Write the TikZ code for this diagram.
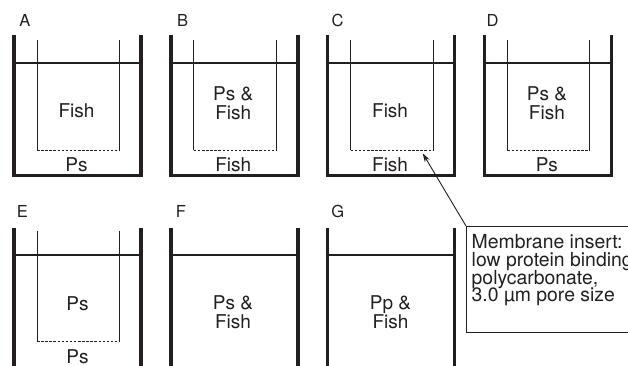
\documentclass[tikz,border=0pt]{standalone}
\usepackage{fontspec}
\setmainfont{TeX Gyre Heros}
\usetikzlibrary{arrows.meta}
\definecolor{ink}{RGB}{35,31,32}
\begin{document}
\begin{tikzpicture}[x=1pt,y=-1pt,
  wall/.style={draw=ink,line width=3.5pt,line join=miter},
  water/.style={draw=ink,line width=2pt},
  insertwall/.style={draw=ink,line width=0.9pt},
  membrane/.style={draw=ink,line width=0.9pt,dash pattern=on 2.5pt off 1.6pt},
  panellabel/.style={font=\fontsize{16.5}{16.5}\selectfont,text=ink,inner sep=0pt,anchor=base},
  content/.style={font=\fontsize{19}{18.7}\selectfont,text=ink,inner sep=0pt,anchor=base,align=center},
  callout/.style={draw=ink,line width=0.9pt,minimum width=190pt,minimum height=105.7pt,anchor=north west,inner sep=0pt},
  callouttext/.style={font=\fontsize{19.4}{17.6}\selectfont,text=ink,inner sep=0pt,anchor=base west,align=left,
    execute at begin node={\lineskiplimit=-100pt\relax}},
  pointer/.style={draw=ink,line width=0.9pt,-{Stealth[length=9pt,width=5.5pt]}}
]
\clip (0,0) rectangle (628,366);

% top row: four beakers with a membrane insert
\foreach \x in {14,170.8,327.6,484.4} {
  \draw[wall] (\x,35) -- (\x,175.3) -- (\x+127,175.3) -- (\x+127,35);
  \draw[water] (\x,63) -- (\x+127,63);
  \draw[insertwall] (\x+23,40) -- (\x+23,150.5);
  \draw[insertwall] (\x+105.5,40) -- (\x+105.5,150.5);
  \draw[membrane] (\x+23,150.5) -- (\x+105.5,150.5);
}

% bottom row: open-ended beakers, only E holds an insert
\foreach \x in {14,170.8,327.6} {
  \draw[wall] (\x,227.5) -- (\x,372);
  \draw[wall] (\x+127,227.5) -- (\x+127,372);
  \draw[water] (\x,255) -- (\x+127,255);
}
\draw[insertwall] (37,230.8) -- (37,341.7);
\draw[insertwall] (119.5,230.8) -- (119.5,341.7);
\draw[membrane] (37,341.7) -- (119.5,341.7);

% panel letters
\node[panellabel] (labA) at (25,26.3) {A};
\node[panellabel] (labB) at (182.5,26.3) {B};
\node[panellabel] (labC) at (337.5,26.3) {C};
\node[panellabel] (labD) at (492.5,26.3) {D};
\node[panellabel] (labE) at (22.3,217.3) {E};
\node[panellabel] (labF) at (180.8,217.3) {F};
\node[panellabel] (labG) at (337.8,217.3) {G};

% contents of inserts and beakers (base = baseline of the last line)
\node[content] (inA) at (76.5,117.7) {Fish};
\node[content] (outA) at (76.5,171.7) {Ps};
\node[content] (inB) at (233.3,119.3) {Ps \&\\Fish};
\node[content] (outB) at (233.3,171.7) {Fish};
\node[content] (inC) at (390.1,117.7) {Fish};
\node[content] (outC) at (390.1,171.7) {Fish};
\node[content] (inD) at (546.9,119.3) {Ps \&\\Fish};
\node[content] (outD) at (546.9,171.7) {Ps};
\node[content] (inE) at (77.5,310) {Ps};
\node[content] (outE) at (77.5,363.3) {Ps};
\node[content] (inF) at (233,328.3) {Ps \&\\Fish};
\node[content] (inG) at (390.5,328.3) {Pp \&\\Fish};

% membrane callout
\node[callout] (membox) at (466,226) {};
\node[callouttext] (memtext) at (471.5,301.7) {Membrane insert:\\low protein binding\\polycarbonate,\\3.0 µm pore size};
\coordinate (mempt) at (422.7,153.3);
\draw[pointer] (membox.north west) -- (mempt);
\end{tikzpicture}
\end{document}
